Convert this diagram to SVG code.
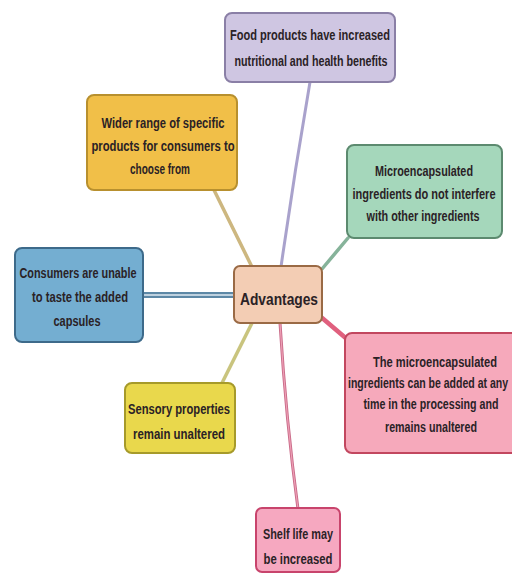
<svg xmlns="http://www.w3.org/2000/svg" width="512" height="576" viewBox="0 0 512 576">
<style>
  .box{stroke-width:2}
  .t{font-family:"Liberation Sans Narrow","Liberation Sans",Arial,sans-serif;font-size:14px;font-weight:bold;fill:#2a2226;text-anchor:middle}
  .c{fill:none;stroke-linecap:round}
</style>
<rect width="512" height="576" fill="#ffffff"/>
<g id="connectors">
  <path class="c" d="M310,82 Q294,175 281,267" stroke="#a9a2cc" stroke-width="3"/>
  <path class="c" d="M214,190 L252,267" stroke="#cdb780" stroke-width="3.5"/>
  <path class="c" d="M348,238 L322,269" stroke="#86b39a" stroke-width="3.5"/>
  <line x1="143" y1="295" x2="234" y2="295" stroke="#5d88a6" stroke-width="6"/>
  <line x1="143" y1="295" x2="234" y2="295" stroke="#dfeaf2" stroke-width="1.6"/>
  <path class="c" d="M321,317 L348,340" stroke="#e0607e" stroke-width="4.5"/>
  <path class="c" d="M252,323 L222,383" stroke="#c9c47e" stroke-width="3.5"/>
  <path class="c" d="M280,323 Q286,420 298,509" stroke="#c96a88" stroke-width="3"/>
  <path class="c" d="M280,323 Q286,420 298,509" stroke="#eea0b6" stroke-width="1.2"/>
</g>
<g id="food">
  <rect class="box" x="225" y="13" width="170" height="69" rx="7" fill="#cfc6e2" stroke="#8a7fa6"/>
  <text class="t" x="310" y="40" textLength="160" lengthAdjust="spacingAndGlyphs">Food products have increased</text>
  <text class="t" x="311" y="66" textLength="153" lengthAdjust="spacingAndGlyphs">nutritional and health benefits</text>
</g>
<g id="wider">
  <rect class="box" x="87" y="95" width="150" height="95" rx="7" fill="#f1bf48" stroke="#b8902e"/>
  <text class="t" x="163" y="128" textLength="123" lengthAdjust="spacingAndGlyphs">Wider range of specific</text>
  <text class="t" x="163" y="151" textLength="143" lengthAdjust="spacingAndGlyphs">products for consumers to</text>
  <text class="t" x="160" y="174" textLength="60" lengthAdjust="spacingAndGlyphs">choose from</text>
</g>
<g id="micro">
  <rect class="box" x="347" y="145" width="155" height="93" rx="7" fill="#a5d7bb" stroke="#5c8a6f"/>
  <text class="t" x="424" y="176" textLength="98" lengthAdjust="spacingAndGlyphs">Microencapsulated</text>
  <text class="t" x="424" y="199" textLength="143" lengthAdjust="spacingAndGlyphs">ingredients do not interfere</text>
  <text class="t" x="423" y="221" textLength="113" lengthAdjust="spacingAndGlyphs">with other ingredients</text>
</g>
<g id="consumers">
  <rect class="box" x="15" y="248" width="128" height="94" rx="7" fill="#74aed1" stroke="#3d6a8a"/>
  <text class="t" x="78" y="278" textLength="117" lengthAdjust="spacingAndGlyphs">Consumers are unable</text>
  <text class="t" x="80" y="302" textLength="96" lengthAdjust="spacingAndGlyphs">to taste the added</text>
  <text class="t" x="77" y="326" textLength="47" lengthAdjust="spacingAndGlyphs">capsules</text>
</g>
<g id="advantages">
  <rect class="box" x="234" y="266" width="88" height="57" rx="6" fill="#f3cdb4" stroke="#9a6a45"/>
  <text class="t" x="279" y="305" style="font-size:17px" textLength="78" lengthAdjust="spacingAndGlyphs">Advantages</text>
</g>
<g id="anytime">
  <rect class="box" x="345" y="333" width="185" height="120" rx="7" fill="#f6a9bb" stroke="#c2475f"/>
  <text class="t" x="435" y="367" textLength="124" lengthAdjust="spacingAndGlyphs">The microencapsulated</text>
  <text class="t" x="428" y="388" textLength="160" lengthAdjust="spacingAndGlyphs">ingredients can be added at any</text>
  <text class="t" x="431" y="409" textLength="135" lengthAdjust="spacingAndGlyphs">time in the processing and</text>
  <text class="t" x="431" y="432" textLength="92" lengthAdjust="spacingAndGlyphs">remains unaltered</text>
</g>
<g id="sensory">
  <rect class="box" x="125" y="383" width="110" height="70" rx="7" fill="#e9d84c" stroke="#a69a2a"/>
  <text class="t" x="179" y="414" textLength="102" lengthAdjust="spacingAndGlyphs">Sensory properties</text>
  <text class="t" x="179" y="439" textLength="92" lengthAdjust="spacingAndGlyphs">remain unaltered</text>
</g>
<g id="shelf">
  <rect class="box" x="256" y="508" width="84" height="64" rx="6" fill="#f6a8c0" stroke="#c8446c"/>
  <text class="t" x="298" y="539" textLength="70" lengthAdjust="spacingAndGlyphs">Shelf life may</text>
  <text class="t" x="298" y="564" textLength="69" lengthAdjust="spacingAndGlyphs">be increased</text>
</g>
</svg>
